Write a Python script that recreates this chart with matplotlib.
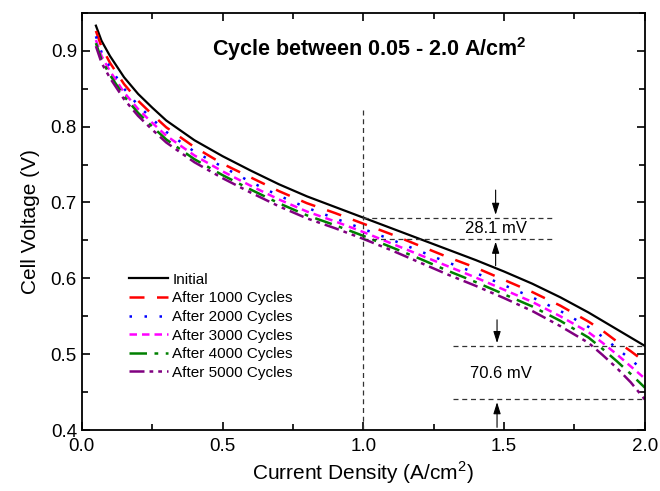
import numpy as np
import matplotlib
matplotlib.use("Agg")
import matplotlib.pyplot as plt
from matplotlib.ticker import MultipleLocator

plt.rcParams['font.family'] = ['Liberation Sans', 'DejaVu Sans']
plt.rcParams['mathtext.fontset'] = 'custom'
plt.rcParams['mathtext.rm'] = 'Liberation Sans'
plt.rcParams['mathtext.bf'] = 'Liberation Sans:bold'

# current density (A/cm2)
current = [0.05, 0.07, 0.1, 0.15, 0.2, 0.25, 0.3, 0.4, 0.5, 0.6, 0.7, 0.8, 0.9,
           1.0, 1.1, 1.2, 1.3, 1.4, 1.5, 1.6, 1.7, 1.8, 1.85, 1.9, 1.95, 2.0]

# cell voltage (V)
v_initial = [0.933, 0.913, 0.893, 0.865, 0.843, 0.825, 0.808, 0.782, 0.761, 0.742,
             0.724, 0.708, 0.694, 0.680, 0.666, 0.652, 0.638, 0.624, 0.609, 0.593,
             0.575, 0.555, 0.544, 0.533, 0.522, 0.511]
v_1000 = [0.926, 0.905, 0.884, 0.856, 0.834, 0.816, 0.799, 0.773, 0.751, 0.733,
          0.715, 0.699, 0.686, 0.672, 0.658, 0.643, 0.628, 0.614, 0.598, 0.582,
          0.564, 0.543, 0.531, 0.517, 0.504, 0.490]
v_2000 = [0.919, 0.898, 0.878, 0.850, 0.828, 0.810, 0.793, 0.767, 0.747, 0.727,
          0.709, 0.693, 0.679, 0.665, 0.651, 0.636, 0.621, 0.607, 0.591, 0.575,
          0.557, 0.536, 0.523, 0.508, 0.493, 0.477]
v_3000 = [0.914, 0.893, 0.873, 0.845, 0.823, 0.805, 0.788, 0.762, 0.741, 0.722,
          0.704, 0.688, 0.675, 0.661, 0.646, 0.631, 0.616, 0.601, 0.585, 0.569,
          0.550, 0.529, 0.515, 0.500, 0.484, 0.468]
v_4000 = [0.910, 0.888, 0.868, 0.840, 0.818, 0.800, 0.783, 0.757, 0.736, 0.717,
          0.699, 0.683, 0.670, 0.656, 0.641, 0.626, 0.610, 0.595, 0.579, 0.563,
          0.544, 0.522, 0.507, 0.491, 0.474, 0.456]
v_5000 = [0.906, 0.884, 0.864, 0.836, 0.814, 0.796, 0.779, 0.753, 0.732, 0.713,
          0.695, 0.679, 0.666, 0.652, 0.637, 0.621, 0.605, 0.590, 0.574, 0.557,
          0.537, 0.515, 0.499, 0.482, 0.463, 0.4404]

labels = ["Initial", "After 1000 Cycles", "After 2000 Cycles",
          "After 3000 Cycles", "After 4000 Cycles", "After 5000 Cycles"]
colors = ["black", "red", "blue", "magenta", "green", "purple"]
styles = ["-", (0, (6, 5)), (0, (1, 5)), (0, (3, 2)), (0, (7, 3, 1.5, 3)),
          (0, (6, 2, 1.5, 2, 1.5, 2))]
series = [v_initial, v_1000, v_2000, v_3000, v_4000, v_5000]

fig = plt.figure(figsize=(6.6, 4.91), dpi=100)
ax = fig.add_axes([0.124, 0.124, 0.853, 0.85])

for v, lab, c, ls in zip(series, labels, colors, styles):
    lw = 1.6 if ls == "-" else 1.8
    ax.plot(current, v, color=c, linestyle=ls, linewidth=lw, label=lab)

# annotation guides
ann = dict(color="#333333", linestyle=(0, (4, 3)), linewidth=0.9)
ax.plot([1.0, 1.0], [0.4, 0.826], **ann)
ax.plot([1.0, 1.67], [0.680, 0.680], **ann)
ax.plot([1.0, 1.67], [0.652, 0.652], **ann)
ax.plot([1.32, 2.0], [0.511, 0.511], **ann)
ax.plot([1.32, 2.0], [0.4405, 0.4405], **ann)

arr = dict(arrowstyle="-|>,head_length=0.7,head_width=0.22", color="black", lw=0.8)
ax.annotate("", xy=(1.47, 0.680), xytext=(1.47, 0.72), arrowprops=arr)
ax.annotate("", xy=(1.47, 0.652), xytext=(1.47, 0.613), arrowprops=arr)
ax.annotate("", xy=(1.475, 0.511), xytext=(1.475, 0.549), arrowprops=arr)
ax.annotate("", xy=(1.475, 0.4405), xytext=(1.475, 0.40), arrowprops=arr)
ax.text(1.47, 0.666, "28.1 mV", ha="center", va="center", fontsize=12)
ax.text(1.49, 0.475, "70.6 mV", ha="center", va="center", fontsize=12)

ax.text(1.02, 0.902, "Cycle between 0.05 - 2.0 A/cm$\\mathbf{^2}$", ha="center",
        va="center", fontsize=15.5, fontweight="bold")

ax.set_xlim(0, 2.0)
ax.set_ylim(0.4, 0.95)
ax.xaxis.set_major_locator(MultipleLocator(0.5))
ax.xaxis.set_minor_locator(MultipleLocator(0.25))
ax.yaxis.set_major_locator(MultipleLocator(0.1))
ax.yaxis.set_minor_locator(MultipleLocator(0.05))
ax.tick_params(which="both", direction="in", top=True, right=True, labelsize=13.5)
ax.tick_params(which="major", length=6, width=1.2)
ax.tick_params(which="minor", length=4, width=1.2)
ax.tick_params(axis="x", pad=6)
for s in ax.spines.values():
    s.set_linewidth(1.3)

ax.set_xlabel("Current Density (A/cm$^2$)", fontsize=15, labelpad=3)
ax.set_ylabel("Cell Voltage (V)", fontsize=15, labelpad=8)

ax.legend(loc="upper left", bbox_to_anchor=(0.06, 0.41), frameon=False,
          fontsize=11, handlelength=2.5, handletextpad=0.3, labelspacing=0.3)

fig.savefig("out.png", dpi=100)
